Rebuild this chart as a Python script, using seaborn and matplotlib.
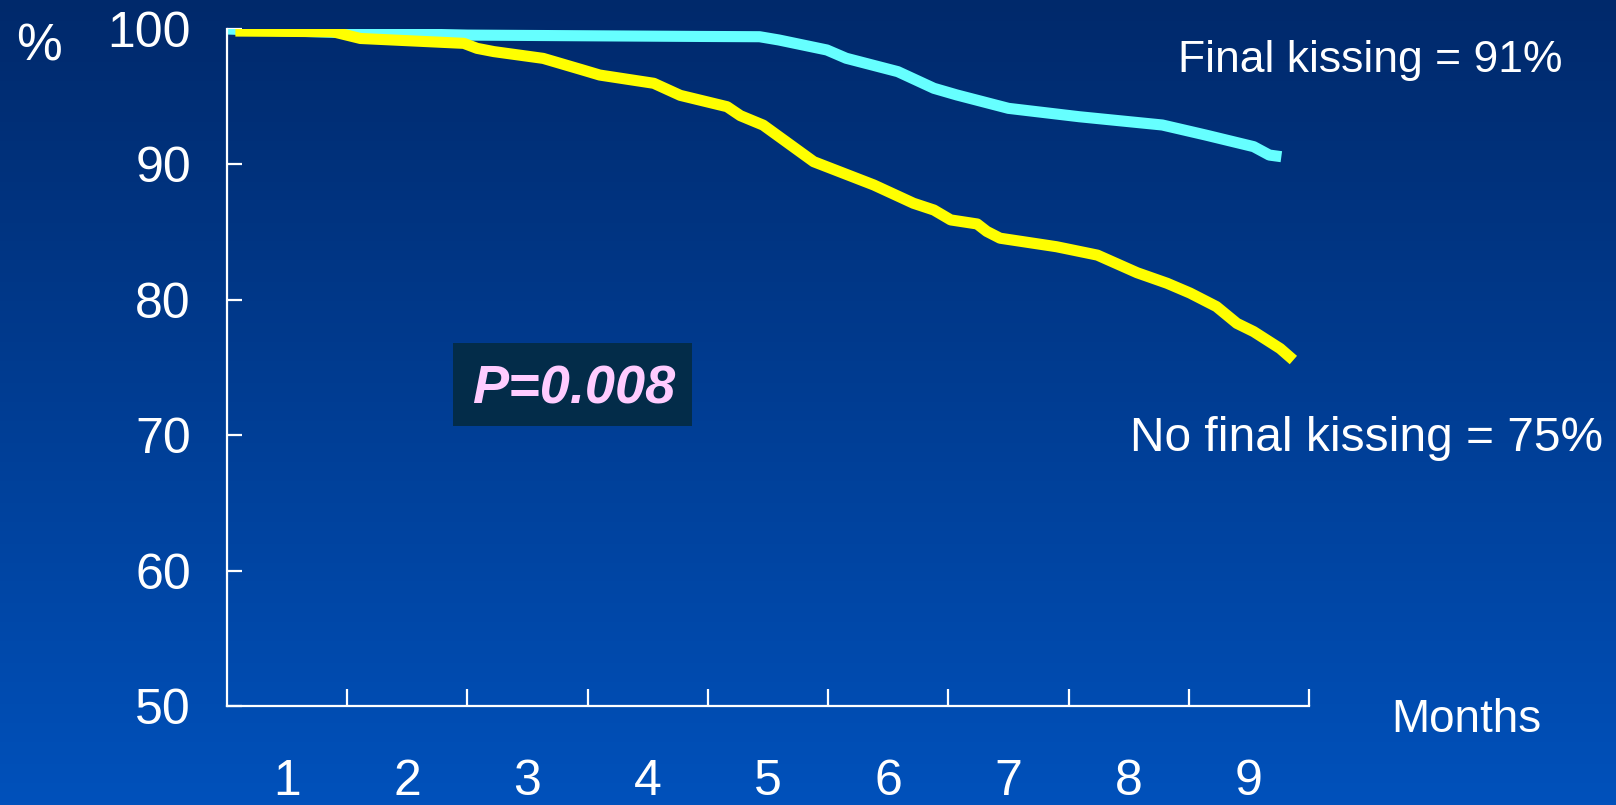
import numpy as np
import pandas as pd
import matplotlib
matplotlib.use("Agg")
import matplotlib.pyplot as plt
from matplotlib.colors import LinearSegmentedColormap
from matplotlib.patches import Rectangle
import seaborn as sns

# ---- data ----
months_kiss = [0.0, 0.9, 2.0, 3.94, 4.43, 4.59, 4.99, 5.15, 5.58, 5.88, 6.07,
               6.50, 7.09, 7.78, 8.14, 8.54, 8.67, 8.77]
surv_kiss = [100.0, 99.75, 99.55, 99.45, 99.43, 99.19, 98.45, 97.84, 96.85, 95.62,
             95.13, 94.14, 93.52, 92.91, 92.17, 91.31, 90.69, 90.57]

months_nokiss = [0.07, 0.88, 1.11, 1.97, 2.08, 2.22, 2.63, 2.96, 3.10, 3.55, 3.77,
                 4.16, 4.27, 4.46, 4.88, 5.38, 5.71, 5.88, 6.02, 6.24, 6.32, 6.43,
                 6.90, 7.24, 7.57, 7.82, 8.01, 8.23, 8.40, 8.54, 8.76, 8.87]
surv_nokiss = [99.85, 99.8, 99.3, 98.94, 98.57, 98.33, 97.83, 96.97, 96.6, 95.99, 95.1,
               94.26, 93.6, 92.9, 90.2, 88.48, 87.13, 86.63, 85.9, 85.6, 85.05, 84.55,
               83.92, 83.3, 82.0, 81.22, 80.5, 79.5, 78.26, 77.65, 76.4, 75.55]

x_ticks = [1, 2, 3, 4, 5, 6, 7, 8, 9]
x_labels = ["1", "2", "3", "4", "5", "6", "7", "8", "9"]
y_ticks = [50, 60, 70, 80, 90, 100]
y_labels = ["50", "60", "70", "80", "90", "100"]

label_kiss = "Final kissing = 91%"
label_nokiss = "No final kissing = 75%"
p_text = "P=0.008"

# ---- style ----
sns.set_style("ticks")
plt.rcParams["font.family"] = ["Liberation Sans", "DejaVu Sans"]

W, H, DPI = 1616, 805, 100
fig = plt.figure(figsize=(W / DPI, H / DPI), dpi=DPI)

# gradient background
bg = fig.add_axes([0, 0, 1, 1], zorder=0)
cmap = LinearSegmentedColormap.from_list("bg", ["#00296b", "#0151bb"])
grad = np.linspace(0, 1, 256).reshape(-1, 1)
bg.imshow(grad, aspect="auto", cmap=cmap, extent=[0, 1, 0, 1], origin="upper")
bg.set_axis_off()

left, right, bottom, top = 227, 1309, 706, 29
ax = fig.add_axes([left / W, 1 - bottom / H, (right - left) / W, (bottom - top) / H], zorder=1)
ax.patch.set_alpha(0)

df_k = pd.DataFrame({"month": months_kiss, "surv": surv_kiss})
df_n = pd.DataFrame({"month": months_nokiss, "surv": surv_nokiss})
sns.lineplot(data=df_k, x="month", y="surv", ax=ax, color="#66ffff", linewidth=8,
             sort=False, estimator=None, solid_capstyle="butt", solid_joinstyle="round")
sns.lineplot(data=df_n, x="month", y="surv", ax=ax, color="#ffff00", linewidth=8,
             sort=False, estimator=None, solid_capstyle="butt", solid_joinstyle="round")

ax.set_xlim(0, 9)
ax.set_ylim(50, 100)
for s in ["top", "right"]:
    ax.spines[s].set_visible(False)
for s in ["left", "bottom"]:
    ax.spines[s].set_color("white")
    ax.spines[s].set_linewidth(1.6)
ax.set_xlabel("")
ax.set_ylabel("")

ax.set_xticks(x_ticks)
ax.set_xticklabels([])
ax.set_xticks([t - 0.5 for t in x_ticks], minor=True)
ax.set_xticklabels(x_labels, minor=True)
ax.tick_params(axis="x", which="major", direction="in", length=12.5, width=1.6, color="white")
ax.tick_params(axis="x", which="minor", length=0, pad=38, labelsize=36, labelcolor="white")
ax.set_yticks(y_ticks)
ax.set_yticklabels(y_labels)
ax.tick_params(axis="y", direction="in", length=11, width=1.6, color="white",
               pad=26, labelsize=36, labelcolor="white")

# annotations (figure pixel coordinates)
def px(x, y):
    return x / W, 1 - y / H

fig.text(*px(39, 47), "%", color="white", fontsize=37, ha="center", va="center")
fig.text(*px(1391, 720), "Months", color="white", fontsize=33, ha="left", va="center")
fig.text(*px(1563, 72), label_kiss, color="white", fontsize=32, ha="right", va="baseline")
fig.text(*px(1603, 451), label_nokiss, color="white", fontsize=34.5, ha="right", va="baseline")

x0, y0 = px(453, 426)
x1, y1 = px(692, 343)
fig.patches.append(Rectangle((x0, y0), x1 - x0, y1 - y0, transform=fig.transFigure,
                             facecolor="#032c49", edgecolor="none", zorder=2))
fig.text(*px(574, 403), p_text, color="#ffccff", fontsize=39, fontweight="bold",
         fontstyle="italic", ha="center", va="baseline", zorder=3)

fig.savefig("out.png", dpi=DPI)
